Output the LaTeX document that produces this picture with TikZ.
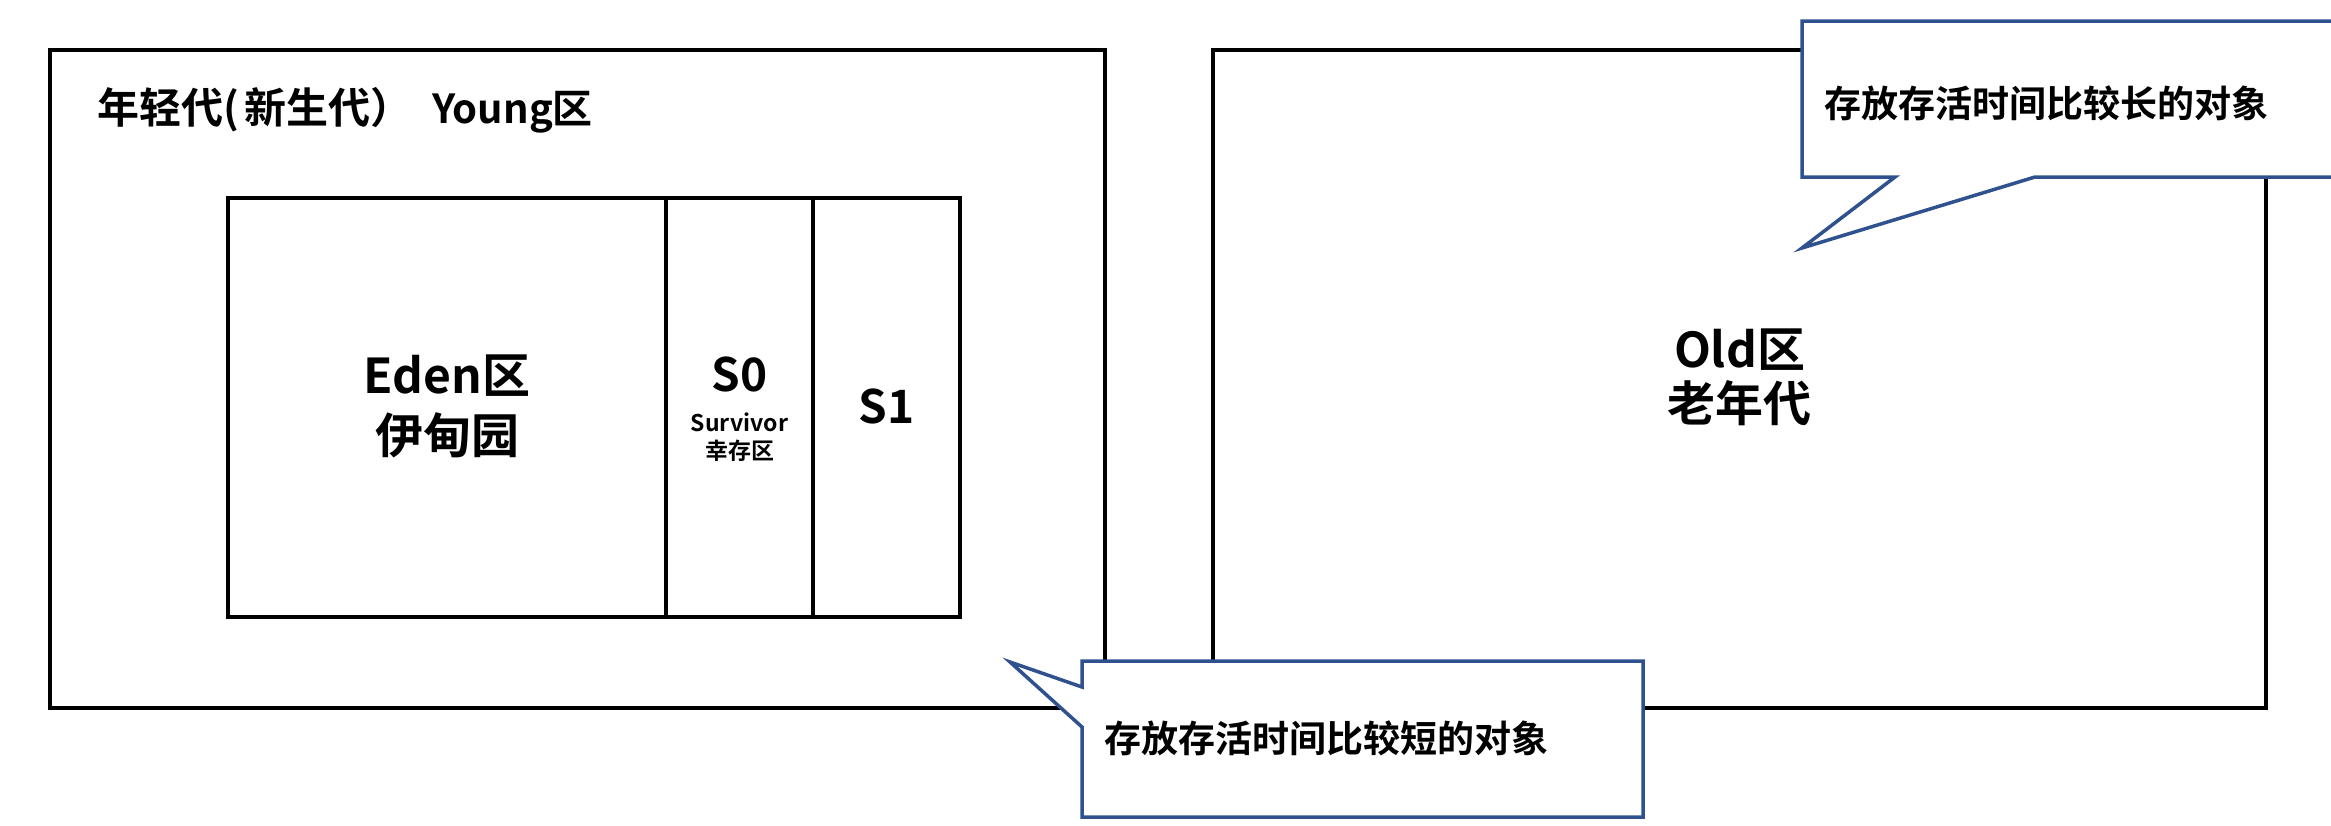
\documentclass[tikz,border=0pt]{standalone}
\usepackage{fontspec}
\setmainfont{Noto Sans CJK SC}[BoldFont={* Bold}]
\definecolor{callblue}{RGB}{47,82,143}
\begin{document}
\begin{tikzpicture}[x=1pt,y=-1pt,
  region/.style={draw=black,line width=4.5pt,inner sep=0pt,outer sep=0pt,rectangle},
  callout/.style={draw=callblue,fill=white,line width=3.5pt,line join=miter},
  bigtxt/.style={font=\bfseries\fontsize{48}{56}\selectfont,align=center,inner sep=0pt},
  midtxt/.style={font=\bfseries\fontsize{38}{44}\selectfont,inner sep=0pt,anchor=west},
  smalltxt/.style={font=\bfseries\fontsize{23}{28}\selectfont,align=center,inner sep=0pt}]
\useasboundingbox (0,0) rectangle (2331,825);
\clip (0,0) rectangle (2331,825);
% outer regions
\node[region,minimum width=1055pt,minimum height=658pt] (young) at (577.5,379) {};
\node[region,minimum width=1053pt,minimum height=658pt] (old) at (1739.5,379) {};
% inner regions
\node[region,minimum width=438pt,minimum height=419pt] (eden) at (447,407.5) {};
\node[region,minimum width=147pt,minimum height=419pt] (s0) at (739.5,407.5) {};
\node[region,minimum width=147pt,minimum height=419pt] (s1) at (886.5,407.5) {};
% labels
\node[midtxt,font=\bfseries\fontsize{42}{46}\selectfont] (youngtitle) at (97,110) {年轻代(\hspace{5pt}新生代）\hspace{20pt}{\fontsize{40}{44}\selectfont Young区}};
\node[bigtxt,font=\bfseries\fontsize{48}{60}\selectfont] (edenlabel) at (447,406) {Eden区\\伊甸园};
\node[bigtxt,font=\bfseries\fontsize{46}{50}\selectfont] (s0label) at (739.5,374) {S0};
\node[smalltxt] (s0sub) at (739.5,437) {Survivor\\幸存区};
\node[bigtxt,font=\bfseries\fontsize{46}{50}\selectfont] (s1label) at (886.5,406) {S1};
\node[bigtxt,font=\bfseries\fontsize{48}{54}\selectfont] (oldlabel) at (1739.5,377) {Old区\\老年代};
% callouts
\draw[callout] (1802,21) -- (2360,21) -- (2360,177) -- (2035,177) -- (1802,248) -- (1895,177) -- (1802,177) -- cycle;
\node[midtxt,font=\bfseries\fontsize{37}{44}\selectfont] (longnote) at (1824,103) {存放存活时间比较长的对象};
\draw[callout] (1082,661) -- (1643,661) -- (1643,817) -- (1082,817) -- (1082,727) -- (1010,662) -- (1082,687) -- cycle;
\node[midtxt,font=\bfseries\fontsize{37}{44}\selectfont] (shortnote) at (1104,738) {存放存活时间比较短的对象};
\end{tikzpicture}
\end{document}
